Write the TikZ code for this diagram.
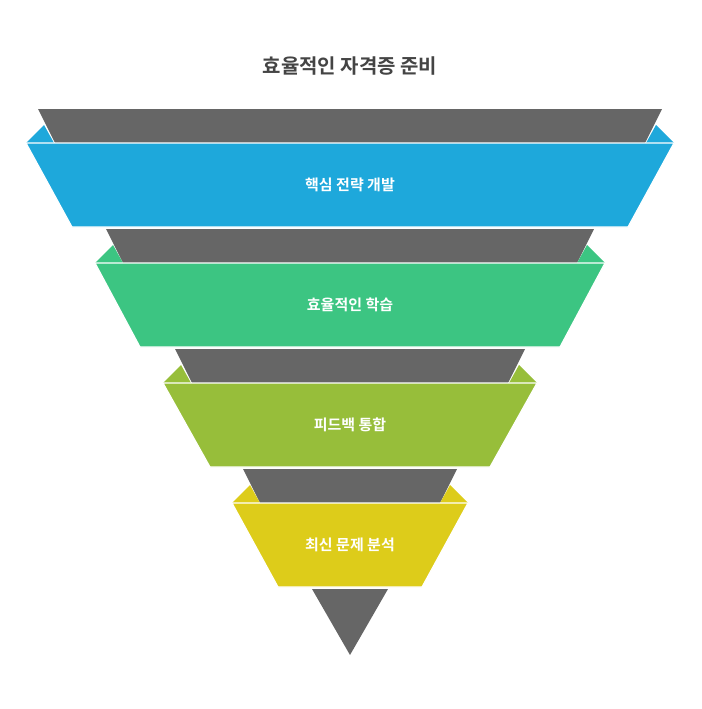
\documentclass[tikz,border=0pt]{standalone}
\usepackage{fontspec}
\newfontfamily\kr{Noto Sans CJK KR}[BoldFont={Noto Sans CJK KR Bold}]
\definecolor{gr}{HTML}{666666}
\definecolor{cb}{HTML}{1EA8DB}
\definecolor{cg}{HTML}{3CC582}
\definecolor{co}{HTML}{97BE3A}
\definecolor{cy}{HTML}{DDCC1A}
\definecolor{tt}{HTML}{444444}
\tikzset{band/.style={draw=white,line width=1.2pt,line join=miter},
 lbl/.style={text=white,font=\kr\bfseries\fontsize{15}{18}\selectfont}}
\begin{document}
\begin{tikzpicture}[x=1pt,y=-1pt]
\useasboundingbox (0,0) rectangle (701,709);
\node[font=\kr\bfseries\fontsize{20}{24}\selectfont,text=tt] (title) at (350,66) {효율적인 자격증 준비};
% gray bands
\fill[gr] (38,109) -- (662,109) -- (645,143) -- (55,143) -- cycle;
\fill[gr] (106,229) -- (594,229) -- (577,263) -- (123,263) -- cycle;
\fill[gr] (175,349) -- (525,349) -- (508,383) -- (192,383) -- cycle;
\fill[gr] (243,469) -- (457,469) -- (440,503) -- (260,503) -- cycle;
\fill[gr] (312,589) -- (388,589) -- (350,655) -- cycle;
% corner triangles
\foreach \l/\r/\y/\c in {26/674/143/cb, 95/605/263/cg, 163/537/383/co, 232/468/503/cy}{
 \fill[\c] (\l,\y) -- (\l+18,\y-18) -- (\l+28,\y) -- cycle;
 \fill[\c] (\r,\y) -- (\r-18,\y-18) -- (\r-28,\y) -- cycle;
}
% colored bands
\filldraw[band,fill=cb] (26,143) -- (674,143) -- (628,227) -- (72,227) -- cycle;
\filldraw[band,fill=cg] (95,263) -- (605,263) -- (560,347) -- (140,347) -- cycle;
\filldraw[band,fill=co] (163,383) -- (537,383) -- (490,467) -- (210,467) -- cycle;
\filldraw[band,fill=cy] (232,503) -- (468,503) -- (422,587) -- (278,587) -- cycle;
\node[lbl] (l1) at (350,185) {핵심 전략 개발};
\node[lbl] (l2) at (350,305) {효율적인 학습};
\node[lbl] (l3) at (350,425) {피드백 통합};
\node[lbl] (l4) at (350,545) {최신 문제 분석};
\end{tikzpicture}
\end{document}
